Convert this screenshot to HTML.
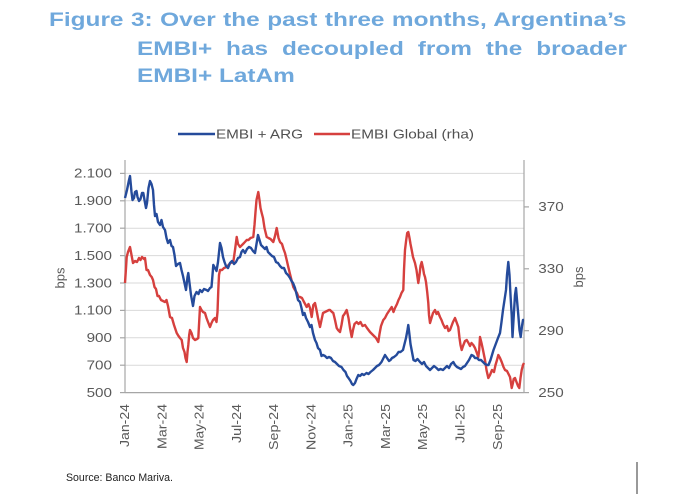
<!DOCTYPE html>
<html>
<head>
<meta charset="utf-8">
<style>
  html, body { margin:0; padding:0; background:#ffffff; }
  body { width:674px; height:499px; position:relative; overflow:hidden; }
  .t { position:absolute; font-family:"Liberation Sans", Arial, sans-serif; font-weight:bold;
       font-size:19.5px; line-height:19.5px; color:#6fa8dc; white-space:nowrap;
       transform:scaleX(1.25); transform-origin:left top; }
  .j { text-align:justify; text-align-last:justify; white-space:normal; }
  svg { position:absolute; left:0; top:0; }
</style>
</head>
<body>
<div class="t j" style="left:49.3px; top:10.8px; width:462px;">Figure 3: Over the past three months, Argentina’s</div>
<div class="t j" style="left:136.7px; top:39.5px; width:392px;">EMBI+ has decoupled from the broader</div>
<div class="t" style="left:136.7px; top:66.8px;">EMBI+ LatAm</div>

<svg width="674" height="499" viewBox="0 0 674 499" xmlns="http://www.w3.org/2000/svg" font-family="Liberation Sans, Arial, sans-serif">
  <!-- gridlines -->
  <g stroke="#d9d9d9" stroke-width="1">
    <line x1="125" y1="173.4" x2="524" y2="173.4"/>
    <line x1="125" y1="200.8" x2="524" y2="200.8"/>
    <line x1="125" y1="228.2" x2="524" y2="228.2"/>
    <line x1="125" y1="255.6" x2="524" y2="255.6"/>
    <line x1="125" y1="283.0" x2="524" y2="283.0"/>
    <line x1="125" y1="310.4" x2="524" y2="310.4"/>
    <line x1="125" y1="337.8" x2="524" y2="337.8"/>
    <line x1="125" y1="365.2" x2="524" y2="365.2"/>
  </g>
  <!-- axes -->
  <g stroke="#a6a6a6" stroke-width="1.2">
    <line x1="125" y1="160" x2="125" y2="392.6"/>
    <line x1="524" y1="160" x2="524" y2="392.6"/>
    <line x1="125" y1="392.6" x2="524" y2="392.6"/>
    <line x1="120" y1="173.4" x2="125" y2="173.4"/>
    <line x1="120" y1="200.8" x2="125" y2="200.8"/>
    <line x1="120" y1="228.2" x2="125" y2="228.2"/>
    <line x1="120" y1="255.6" x2="125" y2="255.6"/>
    <line x1="120" y1="283.0" x2="125" y2="283.0"/>
    <line x1="120" y1="310.4" x2="125" y2="310.4"/>
    <line x1="120" y1="337.8" x2="125" y2="337.8"/>
    <line x1="120" y1="365.2" x2="125" y2="365.2"/>
    <line x1="120" y1="392.6" x2="125" y2="392.6"/>
    <line x1="524" y1="206.9" x2="529" y2="206.9"/>
    <line x1="524" y1="268.8" x2="529" y2="268.8"/>
    <line x1="524" y1="330.7" x2="529" y2="330.7"/>
    <line x1="524" y1="392.6" x2="529" y2="392.6"/>
  </g>

  <!-- left tick labels -->
  <g fill="#595959" font-size="12.5" text-anchor="end">
    <text x="112" y="177.7" textLength="38" lengthAdjust="spacingAndGlyphs">2.100</text>
    <text x="112" y="205.1" textLength="38" lengthAdjust="spacingAndGlyphs">1.900</text>
    <text x="112" y="232.5" textLength="38" lengthAdjust="spacingAndGlyphs">1.700</text>
    <text x="112" y="259.9" textLength="38" lengthAdjust="spacingAndGlyphs">1.500</text>
    <text x="112" y="287.3" textLength="38" lengthAdjust="spacingAndGlyphs">1.300</text>
    <text x="112" y="314.7" textLength="38" lengthAdjust="spacingAndGlyphs">1.100</text>
    <text x="112" y="342.1" textLength="25.4" lengthAdjust="spacingAndGlyphs">900</text>
    <text x="112" y="369.5" textLength="25.4" lengthAdjust="spacingAndGlyphs">700</text>
    <text x="112" y="396.9" textLength="25.4" lengthAdjust="spacingAndGlyphs">500</text>
  </g>
  <!-- right tick labels -->
  <g fill="#595959" font-size="12.5">
    <text x="538.3" y="211.2" textLength="25.4" lengthAdjust="spacingAndGlyphs">370</text>
    <text x="538.3" y="273.1" textLength="25.4" lengthAdjust="spacingAndGlyphs">330</text>
    <text x="538.3" y="335.0" textLength="25.4" lengthAdjust="spacingAndGlyphs">290</text>
    <text x="538.3" y="396.9" textLength="25.4" lengthAdjust="spacingAndGlyphs">250</text>
  </g>
  <!-- axis titles -->
  <g fill="#595959" font-size="13" text-anchor="middle">
    <text transform="translate(64.5,278) rotate(-90)">bps</text>
    <text transform="translate(583,277) rotate(-90)">bps</text>
  </g>

  <!-- x labels -->
  <g fill="#595959" font-size="13" text-anchor="end">
    <text transform="translate(129,404) rotate(-90)" textLength="43" lengthAdjust="spacingAndGlyphs">Jan-24</text>
    <text transform="translate(166.3,404) rotate(-90)" textLength="45" lengthAdjust="spacingAndGlyphs">Mar-24</text>
    <text transform="translate(203.5,404) rotate(-90)" textLength="46" lengthAdjust="spacingAndGlyphs">May-24</text>
    <text transform="translate(240.9,404) rotate(-90)" textLength="39" lengthAdjust="spacingAndGlyphs">Jul-24</text>
    <text transform="translate(278.1,404) rotate(-90)" textLength="46" lengthAdjust="spacingAndGlyphs">Sep-24</text>
    <text transform="translate(315.4,404) rotate(-90)" textLength="46" lengthAdjust="spacingAndGlyphs">Nov-24</text>
    <text transform="translate(352.7,404) rotate(-90)" textLength="43" lengthAdjust="spacingAndGlyphs">Jan-25</text>
    <text transform="translate(390,404) rotate(-90)" textLength="45" lengthAdjust="spacingAndGlyphs">Mar-25</text>
    <text transform="translate(427.2,404) rotate(-90)" textLength="46" lengthAdjust="spacingAndGlyphs">May-25</text>
    <text transform="translate(464.5,404) rotate(-90)" textLength="39" lengthAdjust="spacingAndGlyphs">Jul-25</text>
    <text transform="translate(501.8,404) rotate(-90)" textLength="46" lengthAdjust="spacingAndGlyphs">Sep-25</text>
  </g>

  <!-- legend -->
  <line x1="178" y1="134" x2="215" y2="134" stroke="#254b9b" stroke-width="2.4"/>
  <text x="216" y="138.6" font-size="13" fill="#505050" textLength="87" lengthAdjust="spacingAndGlyphs">EMBI + ARG</text>
  <line x1="314" y1="134" x2="350" y2="134" stroke="#d6403e" stroke-width="2.4"/>
  <text x="351" y="138.6" font-size="13" fill="#505050" textLength="123" lengthAdjust="spacingAndGlyphs">EMBI Global (rha)</text>

  <!-- red series (EMBI Global, rha) -->
  <polyline fill="none" stroke="#d6403e" stroke-width="2.4" stroke-linejoin="round" points="125,283 126,268 126.7,257 128,252 130,247 131.5,255 133,263 135,261 137,262 139,258 140.5,260 142,257 144,259 145,258 146.5,270 148,270 150,275 151.7,277 153,280 154.5,287 156,289 157.5,296 159,296 161,300 163,301 165,302 166.5,300 168,306 170,317 172,318 174,325 176.7,333 178.5,336 180,338 181.7,340 183,348 184.5,352 185.5,358 186.7,362 187.5,352 188.3,345 189.2,335 190,330 191.5,333 193,338 195,340 197,339 198.3,338 199,325 200,307 201.5,310 203,312 205,313 206.5,318 208,322 210,327 211.5,323 213,320 215,318 216.5,322 217.5,312 218.3,290 219,275 220,270 222,270 224,268 226.7,267 228.5,265 230.5,263 233.3,262 235,250 236.7,237 238,244 240,247 242,245 244,243 246.7,240 248.5,240 250.5,238 253.3,237 254.5,225 255.5,212 256.5,200 258.3,192 259.5,200 260.5,208 261.7,213 263,218 264.5,228 266.7,237 268.5,238 270.5,239 273.3,242 275,236 276.7,228 278.5,238 280,242 282,244 283.5,249 285,253 286.7,260 288.3,267 290,274 291.5,280 293.3,287 295,290 297,293 298.5,297 300,297 302,298 304,302 306.7,307 308.5,304 310,308 311.7,317 313.3,305 315,303 316.5,310 318,318 320,327 321.5,320 323,313 325,312 327,311 329,310 330,310 332,312 333.3,313 335,320 336.7,328 338,330 340,332 341.5,325 343,316 344.5,314 346.7,310 348.5,318 350,328 351.7,337 353,330 354.5,324 356.7,322 358.5,324 360.5,322 362.5,326 365,325 367,328 368.5,330 370,332 372,334 374,336 376,338 378.3,342 379.5,334 381,326 383.3,320 385,318 387,314 389,311 391.7,307 393.5,312 395,308 397,304 398.5,300 400,297 401.5,293 403.3,290 404,270 405,250 406.2,240 407.2,233 408.3,232 409.5,238 410.5,244 411.7,250 413,257 415,263 416.5,270 418.3,283 419.5,275 420.5,266 421.7,262 423,268 424,274 425,277 426,282 427.2,292 428.3,303 429,315 430,323 431.5,318 433,313 435,310 436.5,314 438,312 440,317 441.5,320 443,324 445,328 447,326 448.5,331 450,330 451.5,326 453,322 455,318 456.5,322 458.3,327 459.5,338 460.5,345 461.7,350 463,346 465,341 466.7,340 468.5,343 470,346 471.5,343 473.3,345 475,348 476.5,352 478.3,357 479.2,350 480,337 481.5,343 483,350 485,360 486.5,370 488.3,378 490,375 492,370 494,372 495.5,365 497,360 498.3,355 500,358 501.7,362 503.5,367 505,370 507,371 508.5,374 510,377 511,383 511.7,388 512.7,384 513.7,379 515,378 516.5,382 518,386 519.3,388 520.5,378 521.7,370 523,365 524,363"/>

  <!-- blue series (EMBI + ARG) -->
  <polyline fill="none" stroke="#254b9b" stroke-width="2.4" stroke-linejoin="round" points="125,198 127,190 129,180 130,176 131.5,192 132.5,200 134,198 135,192 136.5,191 137.5,197 139,201 140.5,199 142,193 143.3,193 144.5,200 146,208 147,203 148.5,188 150,181 151.5,184 153,190 154,205 155,216 156.5,214 158,222 160,225 161.5,220 163,227 165,230 166.5,238 168,243 170,240 171.5,246 173,247 174.5,255 176,266 178,264 180,263 181.5,270 183,276 184.5,283 186,290 187.5,277 188.3,273 189.5,283 191,295 193,306 194.5,296 196.5,292 198.5,294 200,290 202,292 204,289 206.5,290 208,291 210,288 211.5,287 212.5,275 213.3,265 215,268 216.5,271 218,262 220,243 221.5,248 223,257 224.5,262 226,266 228,268 230,263 232,261 234,264 236,262 238,258 240,257 241.5,252 243,250 245,253 247,249 249,247 251,248 253,251 255,253 256.5,244 258,235 259.5,240 261,245 263,247 265,249 266.5,247 268,252 270,254 272,256 274,257 276,262 278,263 280,266 282,268 284,268 286,273 288,275 290,278 291.5,281 293,283 295,288 296.5,294 298,300 300,302 301.5,308 303,315 304.5,313 306,318 308,322 310,327 311.5,325 313,333 315,340 316.5,343 318,348 320,350 321.5,356 323,355 325,356 327,358 329,357 331,358 333,361 335,362 337,364 339,366 341.5,367 343.5,370 345.5,372 347,376 348.5,378 350.5,381 352,384 353.3,385 355,383 356.5,379 358.3,375 360,376 362,374 364,375 366.5,373 368.5,374 370.5,372 373,370 375,368 377,366 379,365 381.5,362 383.5,358 385,355 387,358 389,361 390.5,360 392,358 394,357 396.5,355 398.5,352 400.5,352 403,350 404.5,344 406,338 407.5,330 408.3,325 409.5,335 410.5,344 412,352 413.5,360 415.5,361 417.5,359 420,362 422,364 424,362 426,366 428,368 430,370 432,368 434,366 436.5,368 438.5,370 440.5,369 443,370 445,368 447,366 449,368 451,364 453.3,362 455,365 457,367 459,368 461,369 463,367 465,366 467,363 469,360 471.5,355 473.5,356 475,358 477,358 479,360 481,360 483,362 485,364 487,365 488.5,365 490.5,360 492,355 493.5,350 495,346 496.5,342 498,338 500,333 501.5,322 503,310 504.5,300 506,290 507,275 508.3,262 509.5,275 510.5,295 511.7,315 512.5,337 513.5,320 515,295 516,288 517,300 518.3,315 519.5,330 520.7,337 522,326 523,320 524,320"/>

  <!-- source -->
  <text x="66" y="481" font-size="11" fill="#222222" textLength="107" lengthAdjust="spacingAndGlyphs">Source: Banco Mariva.</text>
  <line x1="637" y1="462" x2="637" y2="494" stroke="#333333" stroke-width="1"/>
</svg>
</body>
</html>
